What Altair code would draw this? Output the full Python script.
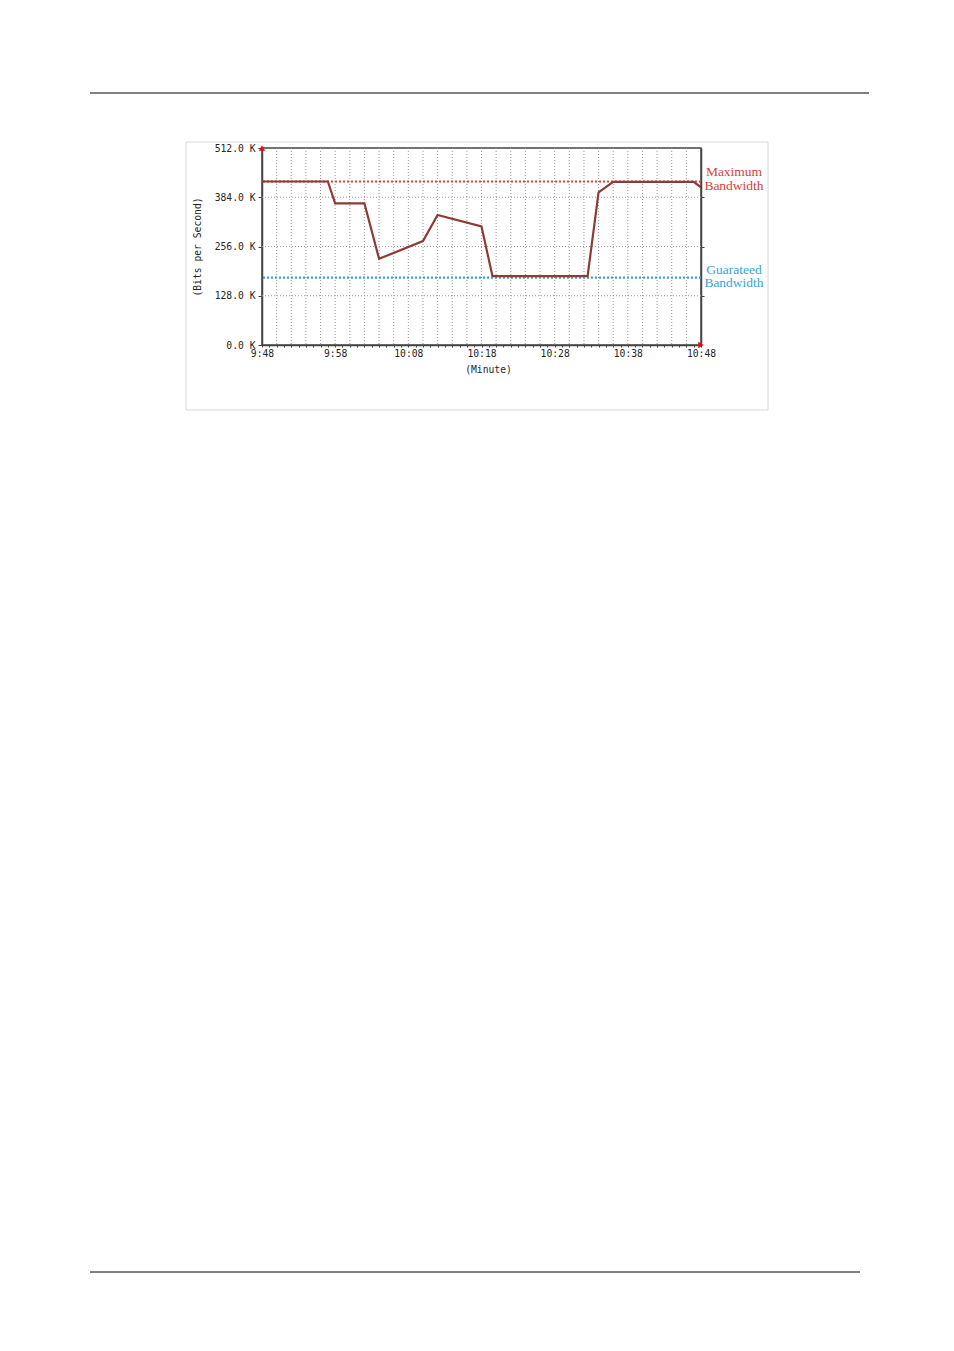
import altair as alt
import pandas as pd

# ---- data ----
minutes = [0, 9, 10, 14, 16, 22, 24, 30, 31.5, 44.5, 46, 48, 59, 60]
kbps = [425, 425, 368, 368, 224, 270, 338, 308, 179, 179, 397, 424, 424, 410]
max_bw = [425]
guar_bw = [175]
x_tick_labels = ["9:48", "9:58", "10:08", "10:18", "10:28", "10:38", "10:48"]
y_ticks = [0, 128, 256, 384, 512]
v_grid = list(range(2, 60, 2))
h_grid = [128, 256, 384]
x_minor = list(range(0, 61))

W, H = 439, 197
mono = "DejaVu Sans Mono"
serif = "Liberation Serif"
RED = "#d2433e"
BLUE = "#37a3d6"
BROWN = "#8e3b36"
AX = "#444444"
TXT = "#262626"

xs = alt.Scale(domain=[0, 60], nice=False, zero=False)
ys = alt.Scale(domain=[0, 512], nice=False)

label_arr = "[" + ",".join("'" + s + "'" for s in x_tick_labels) + "]"

x_axis = alt.Axis(
    values=x_minor,
    labelExpr="datum.value % 10 == 0 ? " + label_arr + "[datum.value / 10] : ''",
    labelOverlap=False, labelFlush=False,
    tickSize=2, tickColor=AX, domainColor=AX, domainWidth=1.5, grid=False,
    labelFont=mono, labelFontSize=9.7, labelColor=TXT, labelPadding=1.5,
    title="(Minute)", titleFont=mono, titleFontSize=9.7, titleFontWeight="normal",
    titleColor=TXT, titleX=226, titleY=24, titleBaseline="middle", titleAlign="center",
)
y_axis = alt.Axis(
    values=y_ticks,
    labelExpr="format(datum.value, '.1f') + ' K'",
    labelOverlap=False, labelFlush=False,
    tickSize=4, tickColor=AX, domainColor=AX, domainWidth=1.5, grid=False,
    labelFont=mono, labelFontSize=9.7, labelColor=TXT, labelPadding=3,
    title="(Bits per Second)", titleFont=mono, titleFontSize=9.7, titleFontWeight="normal",
    titleColor=TXT, titleX=-65, titleY=98.5, titleAngle=-90,
    titleBaseline="middle", titleAlign="center",
)

one = pd.DataFrame({"a": [0]})

# outer light frame of the figure
box = alt.Chart(one).mark_rect(fillOpacity=0, stroke="#d8d8d8", strokeWidth=1).encode(
    x=alt.value(-76), x2=alt.value(506), y=alt.value(-6), y2=alt.value(262)
)

vgrid = alt.Chart(pd.DataFrame({"m": v_grid})).mark_rule(
    color="#9a9a9a", strokeDash=[1, 2], strokeWidth=1
).encode(x=alt.X("m:Q", scale=xs, axis=None))

hgrid = alt.Chart(pd.DataFrame({"v": h_grid})).mark_rule(
    color="#9a9a9a", strokeDash=[1, 2], strokeWidth=1
).encode(
    y=alt.Y("v:Q", scale=ys, axis=alt.Axis(orient="right", values=h_grid, labels=False,
                                           tickSize=3, tickColor=AX, domainColor=AX,
                                           domainWidth=1.5, grid=False, title=None))
)

max_rule = alt.Chart(pd.DataFrame({"v": max_bw})).mark_rule(
    color=RED, strokeDash=[2, 2], strokeWidth=2
).encode(y=alt.Y("v:Q", scale=ys, axis=None))

guar_rule = alt.Chart(pd.DataFrame({"v": guar_bw})).mark_rule(
    color=BLUE, strokeDash=[2, 2], strokeWidth=2.2
).encode(y=alt.Y("v:Q", scale=ys, axis=None))

line = alt.Chart(pd.DataFrame({"m": minutes, "v": kbps})).mark_line(
    color=BROWN, strokeWidth=2.2
).encode(
    x=alt.X("m:Q", scale=xs, axis=x_axis),
    y=alt.Y("v:Q", scale=ys, axis=y_axis),
)

arrow_up = alt.Chart(pd.DataFrame({"m": [0], "v": [512]})).mark_point(
    shape="triangle-up", filled=True, color="#e01010", size=40, opacity=1
).encode(x=alt.X("m:Q", scale=xs, axis=None), y=alt.Y("v:Q", scale=ys, axis=None))

arrow_right = alt.Chart(pd.DataFrame({"m": [60], "v": [0]})).mark_point(
    shape="triangle-right", filled=True, color="#e01010", size=40, opacity=1
).encode(x=alt.X("m:Q", scale=xs, axis=None), y=alt.Y("v:Q", scale=ys, axis=None))

max_text = alt.Chart(pd.DataFrame({"v": max_bw, "t": ["Maximum\nBandwidth"]})).mark_text(
    font=serif, fontSize=13.5, color=RED, align="center", baseline="middle",
    lineBreak="\n", lineHeight=14, dy=-9
).encode(x=alt.value(472), y=alt.Y("v:Q", scale=ys, axis=None), text="t:N")

guar_text = alt.Chart(pd.DataFrame({"v": guar_bw, "t": ["Guarateed\nBandwidth"]})).mark_text(
    font=serif, fontSize=13.5, color=BLUE, align="center", baseline="middle",
    lineBreak="\n", lineHeight=13, dy=-8
).encode(x=alt.value(472), y=alt.Y("v:Q", scale=ys, axis=None), text="t:N")

# page header / footer rules
top_rule = alt.Chart(one).mark_rule(color="black", strokeWidth=1).encode(
    x=alt.value(-172), x2=alt.value(607), y=alt.value(-55)
)
bottom_rule = alt.Chart(one).mark_rule(color="black", strokeWidth=1).encode(
    x=alt.value(-172), x2=alt.value(598), y=alt.value(1124)
)

chart = alt.layer(
    box, vgrid, hgrid, max_rule, guar_rule, line, arrow_up, arrow_right,
    max_text, guar_text, top_rule, bottom_rule
).resolve_axis(x="independent", y="independent").properties(
    width=W, height=H,
    autosize=alt.AutoSizeParams(type="none"),
    padding={"left": 254, "top": 140, "right": 240, "bottom": 986},
    background="white",
).configure_view(stroke=AX, strokeWidth=1.5)

chart.save("out.html", embed_options={"renderer": "svg", "actions": False})
